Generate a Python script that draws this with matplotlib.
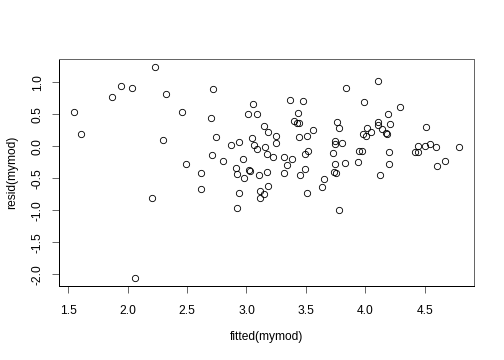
import matplotlib
matplotlib.use("Agg")
import matplotlib.pyplot as plt

# fitted values and residuals
fitted = [1.551, 1.607, 1.868, 1.944, 2.039, 2.233, 2.326, 2.461, 2.301, 2.489,
          2.208, 2.065, 2.722, 2.700, 2.747, 2.708, 2.618, 2.618, 2.806, 2.868,
          2.936, 3.059, 3.017, 3.086, 3.149, 3.185, 3.048, 3.067, 3.090, 3.160,
          3.174, 2.972, 2.911, 2.923, 3.019, 3.027, 2.978, 3.103, 3.177, 3.185,
          2.935, 3.112, 3.149, 3.118, 2.917, 3.248, 3.248, 3.226, 3.364, 3.472,
          3.434, 3.398, 3.423, 3.442, 3.560, 3.506, 3.438, 3.517, 3.496, 3.312,
          3.384, 3.337, 3.312, 3.495, 3.447, 3.510, 3.652, 3.638, 3.764, 3.781,
          3.745, 3.745, 3.804, 3.725, 3.749, 3.736, 3.753, 3.782, 3.836, 4.111,
          3.989, 4.293, 4.194, 4.103, 4.104, 4.209, 4.017, 4.145, 4.047, 3.977,
          4.004, 4.176, 4.180, 3.951, 3.975, 4.198, 3.828, 3.942, 4.203, 4.123,
          4.512, 4.422, 4.444, 4.447, 4.502, 4.544, 4.596, 4.786, 4.668, 4.601]
resid = [0.531, 0.188, 0.775, 0.947, 0.906, 1.234, 0.813, 0.531, 0.098, -0.281,
         -0.813, -2.053, 0.895, 0.447, 0.150, -0.136, -0.417, -0.667, -0.233, 0.028,
         0.063, 0.661, 0.513, 0.502, 0.322, 0.220, 0.138, 0.020, -0.042, -0.014,
         -0.125, -0.194, -0.336, -0.433, -0.375, -0.386, -0.488, -0.453, -0.398, -0.613,
         -0.727, -0.706, -0.742, -0.803, -0.961, 0.166, 0.055, -0.172, 0.720, 0.708,
         0.520, 0.395, 0.372, 0.372, 0.250, 0.161, 0.150, -0.077, -0.120, -0.170,
         -0.202, -0.288, -0.417, -0.352, -0.445, -0.733, -0.514, -0.636, 0.380, 0.290,
         0.083, 0.041, 0.056, -0.108, -0.280, -0.402, -0.413, -1.003, 0.911, 1.016,
         0.697, 0.617, 0.513, 0.377, 0.340, 0.356, 0.281, 0.275, 0.219, 0.189,
         0.164, 0.208, 0.192, -0.078, -0.078, -0.086, -0.266, -0.245, -0.284, -0.452,
         0.302, -0.084, -0.086, 0.005, 0.009, 0.031, -0.014, -0.011, -0.230, -0.303]

xticks = [1.5, 2.0, 2.5, 3.0, 3.5, 4.0, 4.5]
yticks = [-2.0, -1.5, -1.0, -0.5, 0.0, 0.5, 1.0]

plt.rcParams['font.family'] = ['Liberation Sans', 'DejaVu Sans']

fig = plt.figure(figsize=(7, 5), dpi=72)
ax = fig.add_axes([0.117, 0.2056, 0.8235, 0.6304])

ax.plot(fitted, resid, linestyle='none', marker='o', markersize=6.3,
        markerfacecolor='none', markeredgecolor='black', markeredgewidth=0.85)

# R style 4% padding
xr = max(fitted) - min(fitted)
yr = max(resid) - min(resid)
ax.set_xlim(min(fitted) - 0.04 * xr, max(fitted) + 0.04 * xr)
ax.set_ylim(min(resid) - 0.04 * yr, max(resid) + 0.04 * yr)

ax.set_xticks(xticks)
ax.set_xticklabels(['%.1f' % v for v in xticks])
ax.set_yticks(yticks)
ax.set_yticklabels(['%.1f' % v for v in yticks], rotation=90, va='center')

ax.tick_params(axis='both', direction='out', length=7, width=0.8,
               color='#444444', labelsize=12)
ax.tick_params(axis='x', pad=12)
ax.tick_params(axis='y', pad=8)

for side in ['left', 'bottom']:
    ax.spines[side].set_color('black')
    ax.spines[side].set_linewidth(1.0)
for side in ['top', 'right']:
    ax.spines[side].set_color('#666666')
    ax.spines[side].set_linewidth(1.0)

ax.set_xlabel('fitted(mymod)', fontsize=12, labelpad=14)
ax.set_ylabel('resid(mymod)', fontsize=12, labelpad=14)

fig.savefig('out.png', dpi=72, facecolor='white')
